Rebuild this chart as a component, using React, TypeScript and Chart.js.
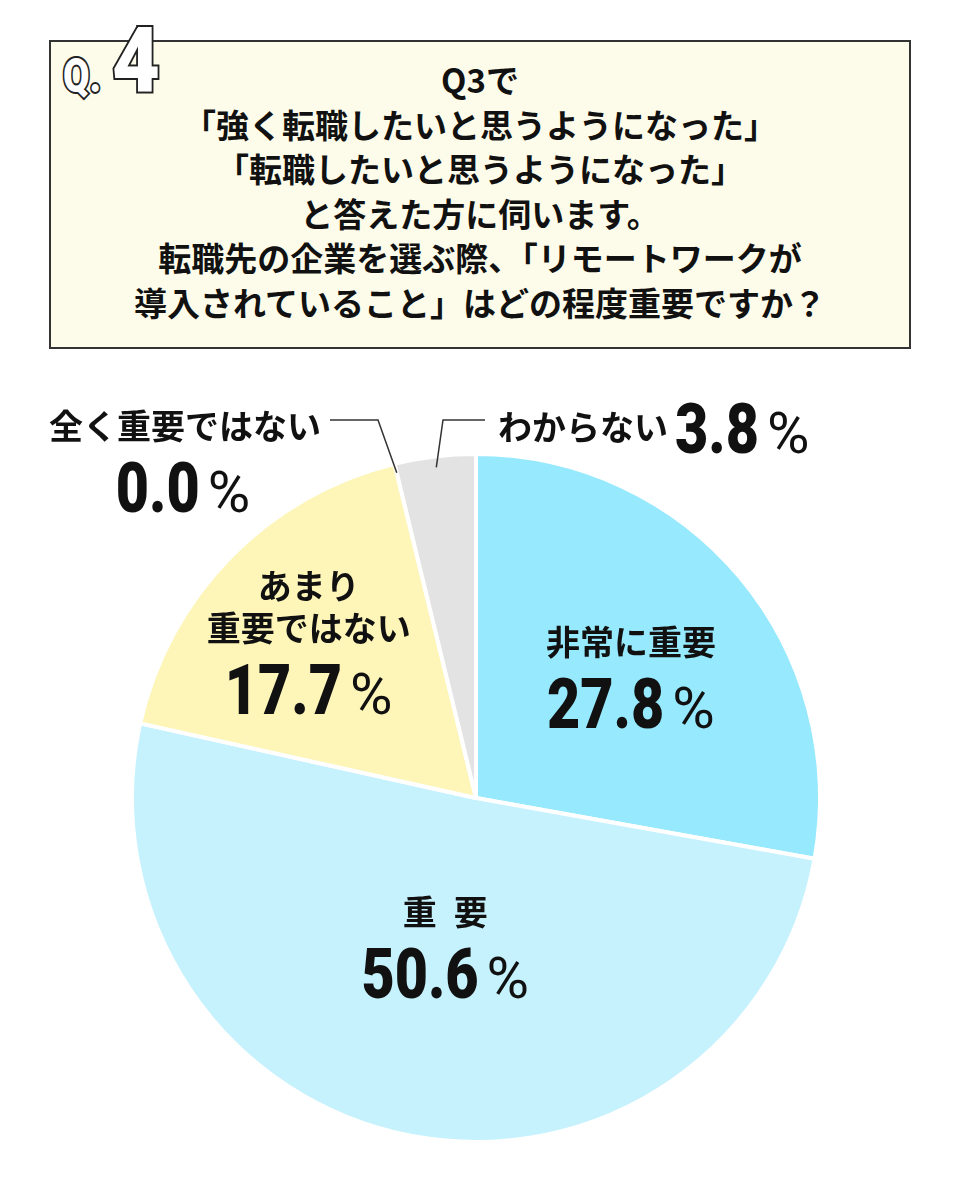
import React, { useEffect, useRef } from "react";
import { Chart, registerables } from "chart.js";

Chart.register(...registerables);

// ---- data ----
const categories = ["非常に重要", "重要", "あまり重要ではない", "全く重要ではない", "わからない"];
const labelLines = [["非常に重要"], ["重 要"], ["あまり", "重要ではない"], ["全く重要ではない"], ["わからない"]];
const values = [27.8, 50.6, 17.7, 0.0, 3.8];
const colors = ["#97e9fd", "#c6f2fd", "#fef6b9", "#fef6b9", "#e3e3e3"];
const questionLines = [
  "Q3で",
  "「強く転職したいと思うようになった」",
  "「転職したいと思うようになった」",
  "と答えた方に伺います。",
  "転職先の企業を選ぶ際、「リモートワークが",
  "導入されていること」はどの程度重要ですか？",
];

// ---- styles / layout ----
const JP = '"Noto Sans CJK JP", "Noto Sans", sans-serif';
const NUM = 'Roboto, "Liberation Sans", sans-serif';
const INK = "#111111";
const labelFont = `700 34px ${JP}`;
const numFont = `900 70px ${NUM}`;
const numScaleX = 0.82;
const pctFont = `400 58px ${NUM}`;

// inner label placement: radius fraction and angular nudge (degrees) from slice mid-angle
const innerPlacement: Record<number, { r: number; turn: number }> = {
  0: { r: 0.558, turn: 3.7 },
  1: { r: 0.466, turn: -0.3 },
  2: { r: 0.61, turn: -7.3 },
};
// leader labels
const leaderPlacement: Record<number, any> = {
  3: { useMid: false, rFrac: 0.973, elbowX: 378, endX: 330, labelX: 185, labelAlign: "center", labelY: 426, numX: 183, numY: 512, numAlign: "center" },
  4: { useMid: true, rFrac: 0.968, elbowX: 443, endX: 485, labelX: 498, labelAlign: "left", labelY: 427, numX: 675, numY: 453, numAlign: "left" },
};

function drawPct(ctx: CanvasRenderingContext2D, v: number, x: number, baseline: number, align: string) {
  const s = v.toFixed(1);
  ctx.font = numFont;
  const w1 = ctx.measureText(s).width * numScaleX;
  ctx.font = pctFont;
  const w2 = ctx.measureText("%").width;
  const gap = 8;
  const total = w1 + gap + w2;
  const start = align === "center" ? x - total / 2 : x;
  ctx.textAlign = "left";
  ctx.textBaseline = "alphabetic";
  ctx.fillStyle = INK;
  ctx.save();
  ctx.translate(start, baseline);
  ctx.scale(numScaleX, 1);
  ctx.font = numFont;
  ctx.fillText(s, 0, 0);
  ctx.restore();
  ctx.font = pctFont;
  ctx.fillText("%", start + w1 + gap, baseline);
}

function drawLabelLine(ctx: CanvasRenderingContext2D, text: string, x: number, y: number, align: CanvasTextAlign) {
  ctx.font = labelFont;
  ctx.fillStyle = INK;
  ctx.textBaseline = "middle";
  if (text.includes(" ")) {
    const parts = text.split(" ");
    const gap = 17;
    const ws = parts.map((p) => ctx.measureText(p).width);
    const total = ws.reduce((a, b) => a + b, 0) + gap * (parts.length - 1);
    let cx = align === "center" ? x - total / 2 : x;
    ctx.textAlign = "left";
    parts.forEach((p, i) => {
      ctx.fillText(p, cx, y);
      cx += ws[i] + gap;
    });
  } else {
    ctx.textAlign = align;
    ctx.fillText(text, x, y);
  }
}

const labelPlugin = {
  id: "pieLabels",
  afterDatasetsDraw(chart: any) {
    const ctx: CanvasRenderingContext2D = chart.ctx;
    const meta = chart.getDatasetMeta(0);
    ctx.save();
    meta.data.forEach((arc: any, i: number) => {
      const p = arc.getProps(["x", "y", "startAngle", "endAngle", "outerRadius"], true);
      const R = p.outerRadius;
      const mid = (p.startAngle + p.endAngle) / 2;
      if (innerPlacement[i]) {
        const pl = innerPlacement[i];
        const a = mid + (pl.turn * Math.PI) / 180;
        const ax = p.x + Math.cos(a) * R * pl.r;
        const ay = p.y + Math.sin(a) * R * pl.r;
        const lines = labelLines[i];
        lines.forEach((ln, j) => {
          const ly = ay - 43 - (lines.length - 1 - j) * 42;
          drawLabelLine(ctx, ln, ax, ly, "center");
        });
        drawPct(ctx, values[i], ax, ay + 43, "center");
      } else if (leaderPlacement[i]) {
        const lp = leaderPlacement[i];
        const a = lp.useMid ? mid : p.startAngle;
        const px = p.x + Math.cos(a) * R * lp.rFrac;
        const py = p.y + Math.sin(a) * R * lp.rFrac;
        const ey = p.y - R - 34;
        ctx.strokeStyle = "#333333";
        ctx.lineWidth = 1.5;
        ctx.beginPath();
        ctx.moveTo(px, py);
        ctx.lineTo(lp.elbowX, ey);
        ctx.lineTo(lp.endX, ey);
        ctx.stroke();
        drawLabelLine(ctx, labelLines[i][0], lp.labelX, lp.labelY, lp.labelAlign);
        drawPct(ctx, values[i], lp.numX, lp.numY, lp.numAlign);
      }
    });
    ctx.restore();
  },
};

export default function App() {
  const ref = useRef<HTMLCanvasElement | null>(null);
  useEffect(() => {
    document.body.style.margin = "0";
    const canvas = ref.current;
    if (!canvas) return;
    const chart = new Chart(canvas, {
      type: "pie",
      data: {
        labels: categories,
        datasets: [
          {
            data: values,
            backgroundColor: colors,
            borderColor: "#ffffff",
            borderWidth: 4,
            radius: 344,
          } as any,
        ],
      },
      options: {
        responsive: false,
        maintainAspectRatio: false,
        animation: false,
        layout: { padding: { left: 100, right: 107, top: 446, bottom: 50 } },
        plugins: { legend: { display: false }, tooltip: { enabled: false } },
      },
      plugins: [labelPlugin],
    });
    return () => chart.destroy();
  }, []);

  const outline: React.CSSProperties = {
    position: "absolute",
    color: "#ffffff",
    WebkitTextStroke: "4px #222222",
    paintOrder: "stroke fill",
    fontFamily: NUM,
    fontWeight: 900,
    lineHeight: 1,
    zIndex: 3,
    whiteSpace: "nowrap",
    transformOrigin: "left top",
  } as any;

  return (
    <div style={{ position: "absolute", left: 0, top: 0, width: 959, height: 1200, background: "#ffffff", overflow: "hidden" }}>
      <canvas ref={ref} width={959} height={1200} style={{ position: "absolute", left: 0, top: 0, width: 959, height: 1200 }} />
      <div
        style={{
          position: "absolute",
          left: 49,
          top: 40,
          width: 862,
          height: 309,
          boxSizing: "border-box",
          border: "2px solid #333333",
          background: "#fdfcea",
          zIndex: 2,
          paddingTop: 15,
          textAlign: "center",
          fontFamily: JP,
          fontWeight: 700,
          fontSize: 33,
          lineHeight: "44.5px",
          color: INK,
        }}
      >
        {questionLines.map((l, i) => (
          <div key={i} style={{ whiteSpace: "nowrap" }}>{l}</div>
        ))}
      </div>
      <div style={{ ...outline, left: 63, top: 52, fontSize: 48, transform: "scaleX(0.8)" }}>Q.</div>
      <div style={{ ...outline, left: 112, top: 17, fontSize: 90, transform: "scaleX(0.92)" }}>4</div>
    </div>
  );
}
